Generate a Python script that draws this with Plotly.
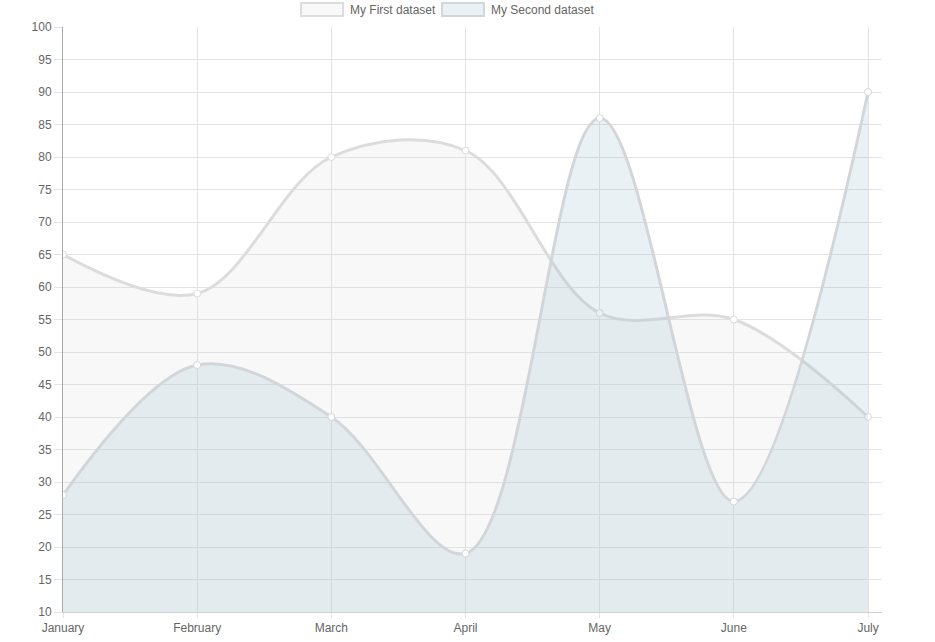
import plotly.graph_objects as go

# chart data
months = ["January", "February", "March", "April", "May", "June", "July"]
first_dataset = [65, 59, 80, 81, 56, 55, 40]
second_dataset = [28, 48, 40, 19, 86, 27, 90]
y_ticks = list(range(10, 101, 5))
series_names = ["My First dataset", "My Second dataset"]

font_family = "Liberation Sans, Arial, Helvetica, sans-serif"
text_color = "#666666"
grid_color = "#e3e3e3"
line_colors = ["rgb(220,220,220)", "rgb(211,214,217)"]
fill_colors = ["rgba(220,220,220,0.2)", "rgba(151,187,205,0.2)"]

fig = go.Figure()

for name, values, lc, fc in zip(series_names, [first_dataset, second_dataset], line_colors, fill_colors):
    fig.add_trace(go.Scatter(
        x=list(range(len(months))), y=values, name=name, showlegend=False,
        mode="lines+markers", line=dict(color=lc, width=3, shape="spline", smoothing=1),
        fill="tozeroy", fillcolor=fc,
        marker=dict(size=7, color="white", line=dict(color=lc, width=1)),
    ))

# chart.js style legend: bordered boxes + labels above the plot
legend_boxes = [(0.2906, 0.3419), (0.4628, 0.5140)]
legend_text_x = [0.348, 0.520]
for (bx0, bx1), tx, name, lc, fc in zip(legend_boxes, legend_text_x, series_names, line_colors, fill_colors):
    fig.add_shape(type="rect", xref="paper", yref="paper", x0=bx0, x1=bx1, y0=1.0188, y1=1.041,
                  line=dict(color=lc, width=2), fillcolor=fc)
    fig.add_annotation(text=name, xref="paper", yref="paper", x=tx, y=1.0295,
                       xanchor="left", yanchor="middle", showarrow=False,
                       font=dict(size=12, color=text_color))

fig.update_layout(
    width=935, height=642,
    margin=dict(l=63, r=53, t=27, b=30, autoexpand=False),
    paper_bgcolor="white", plot_bgcolor="white",
    font=dict(family=font_family, size=12, color=text_color),
    showlegend=False,
    xaxis=dict(
        range=[0, 6.104], tickvals=list(range(len(months))), ticktext=months,
        showgrid=True, gridcolor=grid_color, gridwidth=1,
        ticks="outside", ticklen=5, tickcolor=grid_color,
        showline=True, linecolor="#cfcfcf", linewidth=1,
        zeroline=False, tickfont=dict(size=12, color=text_color),
    ),
    yaxis=dict(
        range=[10, 100], tickvals=y_ticks,
        showgrid=True, gridcolor=grid_color, gridwidth=1,
        ticks="outside", ticklen=8, tickcolor=grid_color,
        showline=True, linecolor="#a8a8a8", linewidth=1,
        zeroline=False, tickfont=dict(size=12, color=text_color),
    ),
)

# drop the default 8px page margin so the chart fills the window
fig.write_html("out.html", config={"displayModeBar": False},
               post_script="document.body.style.margin = '0';")
